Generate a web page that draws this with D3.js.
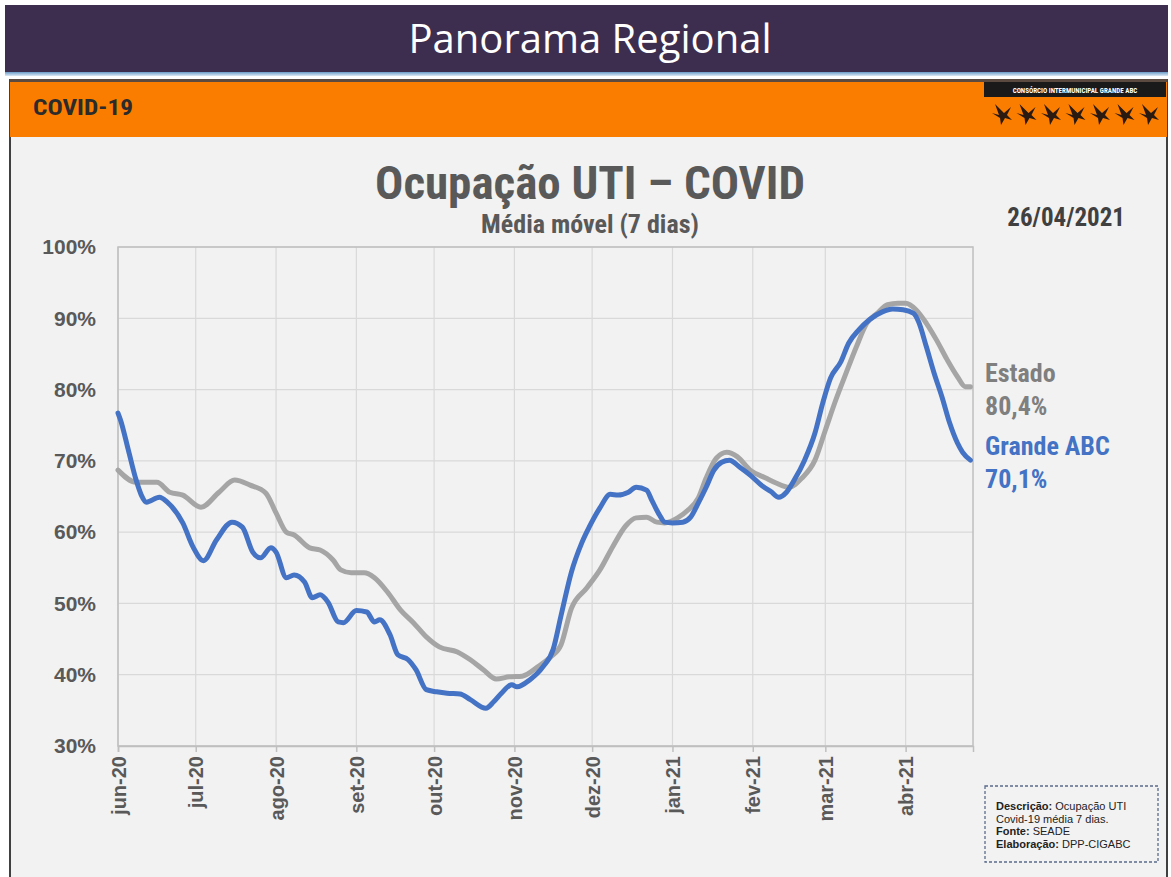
<!DOCTYPE html>
<html><head><meta charset="utf-8">
<script src="https://cdn.jsdelivr.net/npm/d3@7"></script>
<style>
html,body{margin:0;padding:0;background:#fff;}
svg{display:block;}
</style></head>
<body>
<svg id="c" width="1171" height="877"></svg>
<script>
// ---- data ----
const monthTicks = ["2020-06-01","2020-07-01","2020-08-01","2020-09-01","2020-10-01","2020-11-01","2020-12-01","2021-01-01","2021-02-01","2021-03-01","2021-04-01"];
const monthLabels = ["jun-20","jul-20","ago-20","set-20","out-20","nov-20","dez-20","jan-21","fev-21","mar-21","abr-21"];
const yTicks = [30,40,50,60,70,80,90,100];
const abcData = [
["2020-06-01",76.7],["2020-06-02",75.7],["2020-06-05",71.5],["2020-06-08",67.3],["2020-06-10",65.2],["2020-06-12",64.2],
["2020-06-17",64.9],["2020-06-20",64.2],["2020-06-26",61.3],["2020-06-30",57.9],["2020-07-04",56.0],["2020-07-09",58.9],
["2020-07-15",61.4],["2020-07-19",60.7],["2020-07-23",57.2],["2020-07-26",56.4],["2020-07-30",57.8],["2020-08-01",57.2],
["2020-08-05",53.6],["2020-08-08",54.0],["2020-08-12",53.0],["2020-08-15",50.8],["2020-08-18",51.2],["2020-08-21",50.2],
["2020-08-25",47.4],["2020-08-27",47.3],["2020-09-01",49.0],["2020-09-05",48.8],["2020-09-08",47.4],["2020-09-10",47.7],
["2020-09-14",45.6],["2020-09-17",42.8],["2020-09-21",42.1],["2020-09-24",40.7],["2020-09-28",37.9],["2020-10-02",37.6],
["2020-10-06",37.4],["2020-10-11",37.3],["2020-10-15",36.5],["2020-10-21",35.3],["2020-10-24",36.2],["2020-10-27",37.4],
["2020-10-31",38.6],["2020-11-02",38.3],["2020-11-07",39.3],["2020-11-12",41.1],["2020-11-16",43.6],["2020-11-19",48.3],
["2020-11-23",54.4],["2020-11-27",58.5],["2020-11-30",60.8],["2020-12-04",63.4],["2020-12-08",65.3],["2020-12-11",65.2],
["2020-12-15",65.6],["2020-12-18",66.3],["2020-12-22",65.9],["2020-12-24",64.5],["2020-12-27",62.4],["2020-12-29",61.4],
["2021-01-01",61.3],["2021-01-05",61.4],["2021-01-08",62.1],["2021-01-11",64.1],["2021-01-14",66.3],["2021-01-17",68.7],
["2021-01-20",69.8],["2021-01-23",70.1],["2021-01-27",69.1],["2021-01-31",68.0],["2021-02-05",66.4],["2021-02-08",65.7],
["2021-02-11",64.9],["2021-02-14",65.6],["2021-02-17",67.3],["2021-02-21",70.1],["2021-02-25",73.9],["2021-02-28",78.1],
["2021-03-03",81.6],["2021-03-07",83.9],["2021-03-10",86.5],["2021-03-14",88.4],["2021-03-18",89.8],["2021-03-23",90.9],
["2021-03-27",91.3],["2021-03-31",91.2],["2021-04-04",90.7],["2021-04-06",89.5],["2021-04-09",86.0],["2021-04-12",82.3],
["2021-04-15",79.0],["2021-04-18",75.3],["2021-04-21",72.5],["2021-04-23",71.2],["2021-04-26",70.1]
];
const estadoData = [
["2020-06-01",68.7],["2020-06-08",67.0],["2020-06-16",67.0],["2020-06-21",65.6],["2020-06-26",65.2],["2020-07-03",63.5],
["2020-07-10",65.6],["2020-07-16",67.3],["2020-07-22",66.6],["2020-07-28",65.5],["2020-08-01",62.7],["2020-08-05",60.0],
["2020-08-08",59.6],["2020-08-14",57.8],["2020-08-18",57.5],["2020-08-23",56.1],["2020-08-26",54.7],["2020-08-30",54.3],
["2020-09-04",54.3],["2020-09-08",53.6],["2020-09-13",51.6],["2020-09-18",49.1],["2020-09-23",47.3],["2020-09-28",45.3],
["2020-10-03",43.9],["2020-10-10",43.2],["2020-10-15",42.1],["2020-10-20",40.7],["2020-10-25",39.4],["2020-10-30",39.7],
["2020-11-04",39.8],["2020-11-10",41.1],["2020-11-15",42.5],["2020-11-19",44.2],["2020-11-23",49.3],["2020-11-29",52.2],
["2020-12-04",54.7],["2020-12-09",58.0],["2020-12-14",60.9],["2020-12-18",62.0],["2020-12-22",62.1],["2020-12-26",61.4],
["2020-12-29",61.3],["2021-01-03",62.0],["2021-01-07",63.1],["2021-01-11",64.8],["2021-01-14",67.6],["2021-01-18",70.4],
["2021-01-22",71.2],["2021-01-26",70.6],["2021-01-31",68.7],["2021-02-06",67.6],["2021-02-10",66.9],["2021-02-15",66.3],
["2021-02-20",67.6],["2021-02-25",70.1],["2021-03-01",74.3],["2021-03-05",78.5],["2021-03-09",82.3],["2021-03-13",86.0],
["2021-03-17",89.3],["2021-03-21",90.7],["2021-03-25",91.9],["2021-03-29",92.1],["2021-04-01",92.1],["2021-04-05",91.2],
["2021-04-09",89.3],["2021-04-13",86.9],["2021-04-17",84.2],["2021-04-21",81.8],["2021-04-24",80.4],["2021-04-26",80.4]
];
const seriesNames = ["Estado","Grande ABC"];
const lastValues = ["80,4%","70,1%"];

// ---- drawing ----
const svg = d3.select("#c");
const parse = d3.timeParse("%Y-%m-%d");
const narrow = "'Liberation Sans Narrow','Roboto Condensed','Arial Narrow',Arial,sans-serif";
const sans = "'Liberation Sans',Arial,sans-serif";

// banner
svg.append("rect").attr("x",5).attr("y",5).attr("width",1163).attr("height",67).attr("fill","#3d2d4f");
const grad = svg.append("defs").append("linearGradient").attr("id","bl").attr("x1",0).attr("x2",0).attr("y1",0).attr("y2",1);
grad.append("stop").attr("offset",0).attr("stop-color","#6a9cc8");
grad.append("stop").attr("offset",1).attr("stop-color","#dce9f5");
svg.append("rect").attr("x",5).attr("y",72).attr("width",1163).attr("height",4).attr("fill","url(#bl)");
svg.append("text").attr("x",590).attr("y",53).attr("text-anchor","middle").attr("fill","#ffffff")
  .style("font-family","'Open Sans','Noto Sans',sans-serif").style("font-size","40px").text("Panorama Regional");

// content panel
svg.append("rect").attr("x",10).attr("y",80).attr("width",1157).attr("height",800).attr("fill","#f2f2f2").attr("stroke","#404040").attr("stroke-width",2);
// orange header
svg.append("rect").attr("x",10).attr("y",80).attr("width",1157).attr("height",57).attr("fill","#fb7d00");
svg.append("rect").attr("x",10).attr("y",79).attr("width",1157).attr("height",3).attr("fill","#5a4a40");
svg.append("text").attr("x",33).attr("y",115).attr("fill","#2b2b2b")
  .style("font-family",narrow).style("font-weight","bold").style("font-size","22px")
  .attr("textLength",100).attr("lengthAdjust","spacingAndGlyphs").text("COVID-19");
// logo
svg.append("rect").attr("x",984).attr("y",82).attr("width",182).attr("height",15).attr("fill","#1a1a1a");
svg.append("text").attr("x",1075).attr("y",93).attr("text-anchor","middle").attr("fill","#ffffff")
  .style("font-family",narrow).style("font-weight","bold").style("font-size","7px").text("CONSÓRCIO INTERMUNICIPAL GRANDE ABC");
const birds = svg.append("g");
d3.range(7).forEach(i=>{
  const bx = 992 + i*24.5, by = 111;
  birds.append("path").attr("transform",`translate(${bx},${by})`)
    .attr("d","M0,2 L7,4 L3,-7 L12,2 L19,-4 L15,4 L20,9 L13,7 L9,14 L8,7 Z").attr("fill","#2a1a10");
});

// chart titles
svg.append("text").attr("x",590).attr("y",199).attr("text-anchor","middle").attr("fill","#595959")
  .style("font-family",narrow).style("font-weight","bold").style("font-size","47px").text("Ocupação UTI – COVID");
svg.append("text").attr("x",590).attr("y",233).attr("text-anchor","middle").attr("fill","#595959")
  .style("font-family",narrow).style("font-weight","bold").style("font-size","26px").text("Média móvel (7 dias)");
svg.append("text").attr("x",1125).attr("y",226).attr("text-anchor","end").attr("fill","#404040")
  .style("font-family",narrow).style("font-weight","bold").style("font-size","25px").text("26/04/2021");

// scales
const x = d3.scaleTime().domain([parse("2020-06-01"), parse("2021-04-27")]).range([118,973]);
const y = d3.scaleLinear().domain([30,100]).range([746,247]);

const g = svg.append("g");
// grid
g.selectAll(".hg").data(yTicks).enter().append("line")
  .attr("x1",118).attr("x2",973).attr("y1",d=>y(d)).attr("y2",d=>y(d)).attr("stroke","#d9d9d9").attr("stroke-width",1.2);
g.selectAll(".vg").data(monthTicks).enter().append("line")
  .attr("x1",d=>x(parse(d))).attr("x2",d=>x(parse(d))).attr("y1",247).attr("y2",746).attr("stroke","#d9d9d9").attr("stroke-width",1.2);
// border
g.append("rect").attr("x",118).attr("y",247).attr("width",855).attr("height",499).attr("fill","none").attr("stroke","#bfbfbf").attr("stroke-width",1.5);

// axes
const xAxis = d3.axisBottom(x).tickValues(monthTicks.map(parse)).tickSize(6)
  .tickFormat((d,i)=>monthLabels[i]);
const xa = svg.append("g").attr("transform","translate(0,746)").call(xAxis);
xa.select(".domain").attr("stroke","#bfbfbf").attr("stroke-width",1.5);
xa.selectAll(".tick line").attr("stroke","#bfbfbf").attr("stroke-width",1.5);
xa.selectAll(".tick text").attr("transform","rotate(-90)").attr("text-anchor","end")
  .attr("x",-10).attr("y",0).attr("dy","0.35em").attr("fill","#595959")
  .style("font-family",sans).style("font-weight","bold").style("font-size","20px");

const yAxis = d3.axisLeft(y).tickValues(yTicks).tickSize(0).tickFormat(d=>d+"%");
const ya = svg.append("g").attr("transform","translate(118,0)").call(yAxis);
ya.select(".domain").remove();
ya.selectAll(".tick text").attr("x",-22).attr("fill","#595959")
  .style("font-family",sans).style("font-weight","bold").style("font-size","21px");

// lines
const line = d3.line().x(d=>x(parse(d[0]))).y(d=>y(d[1])).curve(d3.curveMonotoneX);
svg.append("path").datum(estadoData).attr("d",line).attr("fill","none").attr("stroke","#a5a5a5")
  .attr("stroke-width",5).attr("stroke-linejoin","round").attr("stroke-linecap","round");
svg.append("path").datum(abcData).attr("d",line).attr("fill","none").attr("stroke","#4472c4")
  .attr("stroke-width",5).attr("stroke-linejoin","round").attr("stroke-linecap","round");

// end labels
const lab = [{n:seriesNames[0],v:lastValues[0],c:"#7f7f7f",y:382},{n:seriesNames[1],v:lastValues[1],c:"#4472c4",y:455}];
lab.forEach(l=>{
  svg.append("text").attr("x",985).attr("y",l.y).attr("fill",l.c)
    .style("font-family",narrow).style("font-weight","bold").style("font-size","26px").text(l.n);
  svg.append("text").attr("x",985).attr("y",l.y+33).attr("fill",l.c)
    .style("font-family",narrow).style("font-weight","bold").style("font-size","26px").text(l.v);
});

// description box
svg.append("rect").attr("x",985).attr("y",786).attr("width",173).attr("height",76).attr("fill","#f2f2f2")
  .attr("stroke","#5b6b8a").attr("stroke-width",1.3).attr("stroke-dasharray","3,2");
const desc = [["Descrição: ","Ocupação UTI"],["","Covid-19 média 7 dias."],["Fonte: ","SEADE"],["Elaboração: ","DPP-CIGABC"]];
desc.forEach((d,i)=>{
  const t = svg.append("text").attr("x",996).attr("y",810+i*12.5).attr("fill","#222")
    .style("font-family",sans).style("font-size","11px");
  t.append("tspan").style("font-weight","bold").text(d[0]);
  t.append("tspan").text(d[1]);
});
</script>
</body></html>
